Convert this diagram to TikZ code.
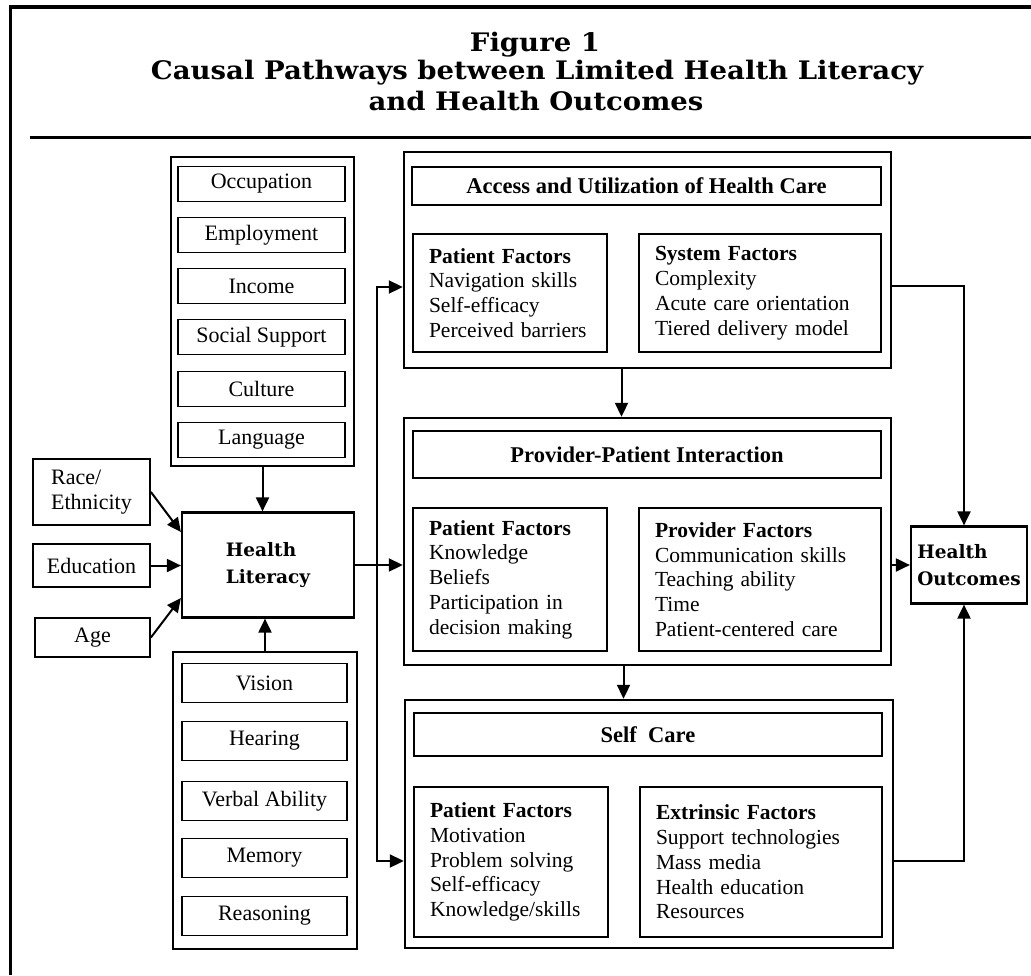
\documentclass[tikz,border=0pt]{standalone}
\usepackage{fontspec}
\setmainfont{Liberation Serif}
\newfontfamily\slabfont{DejaVu Serif}
\newfontfamily\titlefont[FakeStretch=1.08]{DejaVu Serif}
\usetikzlibrary{arrows.meta}

\tikzstyle{group} = [draw, line width=2.4pt, rectangle, inner sep=0pt]
\tikzstyle{item} = [draw, line width=1.8pt, rectangle, inner sep=0pt, font=\fontsize{22}{24.5}\selectfont]
\tikzstyle{header} = [item, font=\fontsize{22.5}{26}\selectfont\bfseries]
\tikzstyle{factor} = [item, align=left, inner xsep=16pt, font=\fontsize{21.5}{24.8}\selectfont]
\tikzstyle{keybox} = [draw, line width=2.2pt, rectangle, inner sep=0pt, align=left, font=\slabfont\bfseries\fontsize{18.5}{26.5}\selectfont]
\tikzstyle{headline} = [font=\titlefont\bfseries\fontsize{25.5}{28}\selectfont]
\tikzstyle{arrow} = [draw, line width=2pt, -{Triangle[length=14pt,width=13pt]}]

\begin{document}
\begin{tikzpicture}[x=1pt, y=-1pt]
    \useasboundingbox (0,0) rectangle (1031,975);

    % frame and heading
    \draw[line width=3.6pt] (1031,7) -- (10.5,7) -- (10.5,975);
    \draw[line width=3pt] (30,137) -- (1031,137);
    \node[headline] (fig) at (535,45) {Figure 1};
    \node[headline] (head1) at (537,73) {Causal Pathways between Limited Health Literacy};
    \node[headline] (head2) at (536,101) {and Health Outcomes};

    % the social factors
    \node[group, minimum width=183pt, minimum height=309pt] (upper) at (262.5,311.5) {};
    \foreach \y/\name/\label in {184/occ/Occupation, 235/emp/Employment, 286/inc/Income, 337/soc/Social Support, 389/cul/Culture, 440/lan/Language} {
      \node[item, minimum width=167pt, minimum height=35pt] (\name) at (261.5,\y) {\label};
    }

    % the personal factors
    \node[group, minimum width=184pt, minimum height=297pt] (lower) at (265,800.5) {};
    \foreach \y/\name/\label in {683/vis/Vision, 741/hea/Hearing, 801/ver/Verbal Ability, 858/mem/Memory, 916/rea/Reasoning} {
      \node[item, minimum width=165pt, minimum height=39pt] (\name) at (264.5,\y) {\label};
    }

    % the inputs on the left
    \node[item, minimum width=117pt, minimum height=66pt, align=left] (race) at (91.5,492) {Race/\\Ethnicity};
    \node[item, minimum width=117pt, minimum height=43pt] (edu) at (91.5,565.5) {Education};
    \node[item, minimum width=115pt, minimum height=39pt] (age) at (92.5,637.5) {Age};
    \node[keybox, minimum width=172pt, minimum height=105pt] (hl) at (268,565) {Health\\Literacy};

    % the three pathways
    \node[group, minimum width=487pt, minimum height=216pt] (access) at (647.5,260) {};
    \node[group, minimum width=487pt, minimum height=247pt] (ppi) at (647.5,541.5) {};
    \node[group, minimum width=488pt, minimum height=248pt] (self) at (649,824) {};

    \node[header, minimum width=469pt, minimum height=38pt] (acctitle) at (646.5,186) {Access and Utilization of Health Care};
    \node[header, minimum width=468pt, minimum height=47pt] (ppititle) at (647,454.5) {Provider-Patient Interaction};
    \node[header, minimum width=468pt, minimum height=43pt] (sctitle) at (648,734.5) {Self\enspace Care};

    \foreach \pos/\name/\h/\txt in {
      {(510,293)/accpat/118/{\textbf{Patient Factors}\\Navigation skills\\Self-efficacy\\Perceived barriers}},
      {(510,579.5)/ppipat/143/{\textbf{Patient Factors}\\Knowledge\\Beliefs\\Participation in\\decision making}},
      {(511,862)/scpat/150/{\textbf{Patient Factors}\\Motivation\\Problem solving\\Self-efficacy\\Knowledge/skills}}} {
      \node[factor, text width=162pt, minimum height=\h pt] (\name) at \pos {\txt};
    }
    \foreach \pos/\name/\h/\txt in {
      {(760,293)/accsys/118/{\textbf{System Factors}\\Complexity\\Acute care orientation\\Tiered delivery model}},
      {(760,579.5)/ppipro/143/{\textbf{Provider Factors}\\Communication skills\\Teaching ability\\Time\\Patient-centered care}},
      {(761,862)/scext/150/{\textbf{Extrinsic Factors}\\Support technologies\\Mass media\\Health education\\Resources}}} {
      \node[factor, text width=210pt, minimum height=\h pt] (\name) at \pos {\txt};
    }

    \node[keybox, minimum width=116pt, minimum height=77pt] (ho) at (969,565) {Health\\Outcomes};

    % the connections
    \coordinate (branch) at (377,565);
    \draw[arrow] (upper.south) -- (upper.south |- hl.north);
    \draw[arrow] (lower.north) -- (lower.north |- hl.south);
    \draw[arrow] (race.east) -- ([yshift=33pt]hl.west);
    \draw[arrow] (edu.east) -- (edu.east -| hl.west);
    \draw[arrow] (age.east) -- ([yshift=-33pt]hl.west);
    \draw[arrow] (hl.east) -- (hl.east -| ppi.west);
    \draw[arrow] (branch) |- ([yshift=-27pt]access.west);
    \draw[arrow] (branch) |- ([yshift=-37pt]self.west);
    \draw[arrow] ([xshift=-26pt]access.south) -- ([xshift=-26pt]access.south |- ppi.north);
    \draw[arrow] ([xshift=-24pt]ppi.south) -- ([xshift=-24pt]ppi.south |- self.north);
    \draw[arrow] ([yshift=-26pt]access.east) -| ([xshift=-5pt]ho.north);
    \draw[arrow] ([yshift=-37pt]self.east) -| ([xshift=-5pt]ho.south);
    \draw[arrow] (ho.west -| ppi.east) -- (ho.west);

\end{tikzpicture}
\end{document}
